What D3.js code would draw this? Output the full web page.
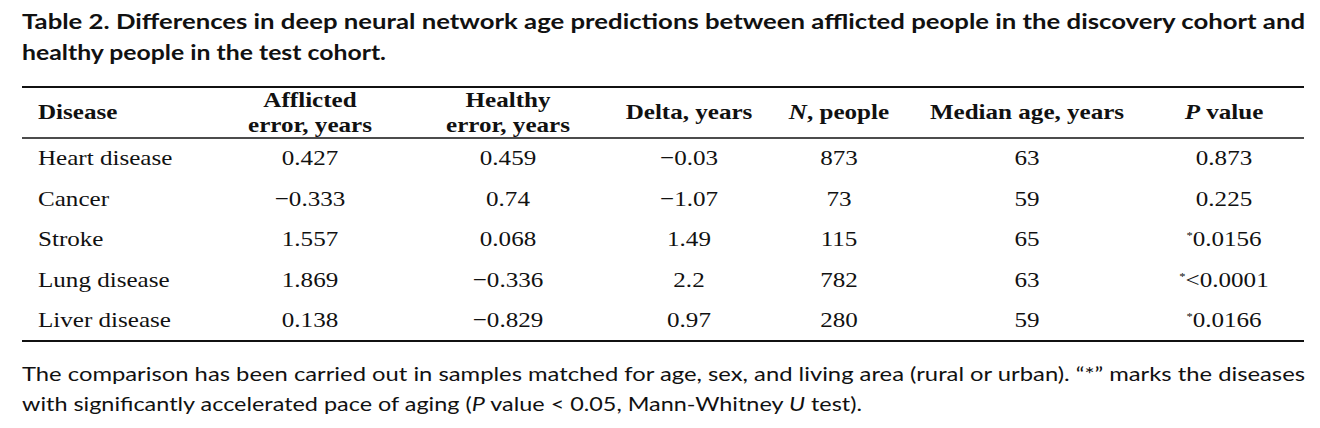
<!DOCTYPE html>
<meta charset="utf-8">
<style>
  body { margin: 0; background: #fff; }
  svg { display: block; }
  .title { font-family: Lato, "Open Sans", sans-serif; font-weight: 700; font-size: 21px; fill: #111; }
  .note { font-family: Lato, "Open Sans", sans-serif; font-size: 20px; fill: #111; }
  .head { font-family: "Liberation Serif", "DejaVu Serif", serif; font-weight: 700; font-size: 22px; fill: #111; }
  .cell { font-family: "Liberation Serif", "DejaVu Serif", serif; font-size: 22px; fill: #111; }
  .rule { stroke: #111; }
</style>
<body>
<div id="chart"></div>
<script src="https://d3js.org/d3.v7.min.js"></script>
<script>
// table data
var diseases = ["Heart disease", "Cancer", "Stroke", "Lung disease", "Liver disease"];
var afflictedErr = [0.427, -0.333, 1.557, 1.869, 0.138];
var healthyErr = [0.459, 0.74, 0.068, -0.336, -0.829];
var delta = [-0.03, -1.07, 1.49, 2.2, 0.97];
var nPeople = [873, 73, 115, 782, 280];
var medianAge = [63, 59, 65, 63, 59];
var pValues = ["0.873", "0.225", "0.0156", "<0.0001", "0.0166"];
var significant = [false, false, true, true, true];
var columns = ["disease", "afflicted", "healthy", "delta", "n", "median", "p"];

var width = 1320, height = 428;
var sx = 1.14; // the scan is stretched sideways

var svg = d3.select("#chart").append("svg")
    .attr("width", width)
    .attr("height", height);

svg.append("rect").attr("width", width).attr("height", height).attr("fill", "#fff");

// column centres (disease is left aligned)
var colX = d3.scaleOrdinal()
    .domain(columns)
    .range([38, 310, 508, 689, 839, 1027, 1224]);

var rowY = d3.scalePoint()
    .domain(diseases)
    .range([165, 327]);

function fmt(v) { return v < 0 ? "\u2212" + Math.abs(v) : String(v); }

// title
var titleLines = [
  {t: "Table 2. Differences in deep neural network age predictions between afflicted people in the discovery cohort and", y: 29, w: 1283},
  {t: "healthy people in the test cohort.", y: 60, w: 364}
];
svg.selectAll("text.title").data(titleLines).enter().append("text")
    .attr("class", "title")
    .attr("x", 22)
    .attr("y", function(d) { return d.y; })
    .attr("textLength", function(d) { return d.w; })
    .attr("lengthAdjust", "spacingAndGlyphs")
    .text(function(d) { return d.t; });

// rules
svg.append("line").attr("class", "rule").attr("x1", 22).attr("x2", 1304).attr("y1", 87).attr("y2", 87).attr("stroke-width", 2);
svg.append("line").attr("class", "rule").attr("x1", 22).attr("x2", 1304).attr("y1", 138).attr("y2", 138).attr("stroke-width", 1.6);
svg.append("line").attr("class", "rule").attr("x1", 22).attr("x2", 1304).attr("y1", 341).attr("y2", 341).attr("stroke-width", 2);

// header
function stretched(sel, x, y) {
  return sel.attr("transform", "translate(" + x + "," + y + ") scale(" + sx + ",1)");
}
var heads = [
  {c: "disease", lines: [[{t: "Disease"}]]},
  {c: "afflicted", lines: [[{t: "Afflicted"}], [{t: "error, years"}]]},
  {c: "healthy", lines: [[{t: "Healthy"}], [{t: "error, years"}]]},
  {c: "delta", lines: [[{t: "Delta, years"}]]},
  {c: "n", lines: [[{t: "N", i: true}, {t: ", people"}]]},
  {c: "median", lines: [[{t: "Median age, years"}]]},
  {c: "p", lines: [[{t: "P", i: true}, {t: " value"}]]}
];
heads.forEach(function(h) {
  h.lines.forEach(function(parts, k) {
    var y = h.lines.length === 1 ? 119 : (k === 0 ? 107 : 132);
    var t = stretched(svg.append("text").attr("class", "head")
        .attr("text-anchor", h.c === "disease" ? "start" : "middle"), colX(h.c), y);
    parts.forEach(function(p) {
      t.append("tspan").attr("font-style", p.i ? "italic" : null).text(p.t);
    });
  });
});

// body
var rows = diseases.map(function(d, i) {
  return {disease: d, afflicted: fmt(afflictedErr[i]), healthy: fmt(healthyErr[i]),
          delta: fmt(delta[i]), n: String(nPeople[i]), median: String(medianAge[i]),
          p: pValues[i], sig: significant[i]};
});

rows.forEach(function(r) {
  columns.forEach(function(c) {
    var t = stretched(svg.append("text").attr("class", "cell")
        .attr("text-anchor", c === "disease" ? "start" : "middle"), colX(c), rowY(r.disease));
    if (c === "p" && r.sig) {
      t.append("tspan").attr("font-size", 11).attr("dy", -7).text("*");
      t.append("tspan").attr("dy", 7).text(r[c]);
    } else {
      t.text(r[c]);
    }
  });
});

// footnote
var notes = [
  {y: 381, w: 1283, parts: [{t: "The comparison has been carried out in samples matched for age, sex, and living area (rural or urban). \u201C*\u201D marks the diseases"}]},
  {y: 411, w: 840, parts: [{t: "with significantly accelerated pace of aging ("}, {t: "P", i: true}, {t: " value < 0.05, Mann-Whitney "}, {t: "U", i: true}, {t: " test)."}]}
];
notes.forEach(function(n) {
  var t = svg.append("text").attr("class", "note")
      .attr("x", 22).attr("y", n.y)
      .attr("textLength", n.w)
      .attr("lengthAdjust", "spacingAndGlyphs");
  n.parts.forEach(function(p) {
    t.append("tspan").attr("font-style", p.i ? "italic" : null).text(p.t);
  });
});
</script>
</body>
</html>
